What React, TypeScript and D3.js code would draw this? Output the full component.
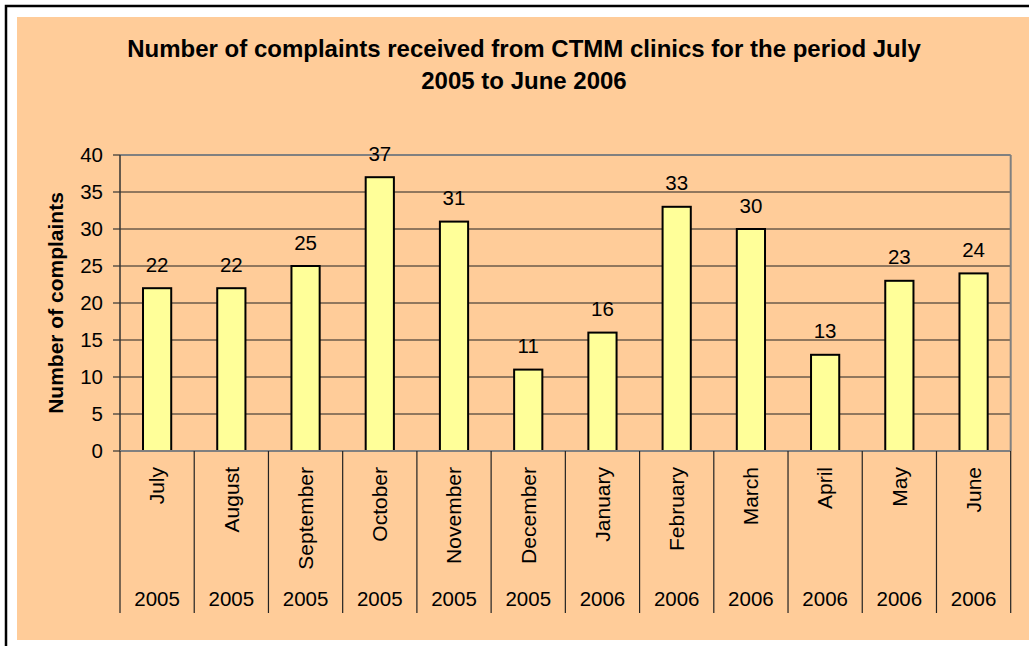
import React from 'react';
import * as d3 from 'd3';

const months = ['July', 'August', 'September', 'October', 'November', 'December', 'January', 'February', 'March', 'April', 'May', 'June'];
const years = ['2005', '2005', '2005', '2005', '2005', '2005', '2006', '2006', '2006', '2006', '2006', '2006'];
const complaints = [22, 22, 25, 37, 31, 11, 16, 33, 30, 13, 23, 24];
const yTicks = [0, 5, 10, 15, 20, 25, 30, 35, 40];

const W = 1029;
const H = 646;
const font = 'Arial, "Liberation Sans", sans-serif';

export default function App() {
  const left = 120;
  const right = 1010.7;
  const top = 155;
  const bottom = 451;

  const x = d3.scaleBand<number>()
    .domain(d3.range(months.length))
    .range([left, right])
    .padding(0);

  const y = d3.scaleLinear()
    .domain([0, 40])
    .range([bottom, top]);

  const barW = x.bandwidth() * 0.38;

  return (
    <div style={{ position: 'absolute', left: 0, top: 0 }}>
      <svg width={W} height={H} style={{ display: 'block' }} fontFamily={font}>
        <rect x={0} y={0} width={W} height={H} fill="#ffffff" />
        {/* outer frame */}
        <rect x={6} y={6} width={W + 50} height={H + 50} fill="none" stroke="#000" strokeWidth={2.5} />
        <rect x={17} y={17} width={W} height={640 - 17} fill="#FFCC99" />

        {/* title */}
        <text x={524} y={57} textAnchor="middle" fontSize={24} fontWeight="bold" fill="#000">
          Number of complaints received from CTMM clinics for the period July
        </text>
        <text x={524} y={89} textAnchor="middle" fontSize={24} fontWeight="bold" fill="#000">
          2005 to June 2006
        </text>

        {/* gridlines */}
        {yTicks.filter(t => t > 0 && t < 40).map(t => (
          <line key={t} x1={left} x2={right} y1={y(t)} y2={y(t)} stroke="#222" strokeWidth={1} />
        ))}
        {/* plot border top/right */}
        <line x1={left} x2={right} y1={y(40)} y2={y(40)} stroke="#808080" strokeWidth={2} />
        <line x1={right} x2={right} y1={y(40)} y2={y(0)} stroke="#808080" strokeWidth={2} />

        {/* bars */}
        {complaints.map((v, i) => {
          const cx = (x(i) as number) + x.bandwidth() / 2;
          return (
            <g key={i}>
              <rect x={cx - barW / 2} y={y(v)} width={barW} height={y(0) - y(v)}
                fill="#FFFF99" stroke="#000" strokeWidth={2} />
              <text x={cx} y={y(v) - 16.5} textAnchor="middle" fontSize={20.5} fill="#000">{v}</text>
            </g>
          );
        })}

        {/* y axis */}
        <line x1={left} x2={left} y1={y(40)} y2={y(0)} stroke="#333" strokeWidth={1.5} />
        {yTicks.map(t => (
          <g key={t}>
            <line x1={left - 7} x2={left} y1={y(t)} y2={y(t)} stroke="#333" strokeWidth={1.2} />
            <text x={103} y={y(t)} dy="0.36em" textAnchor="end" fontSize={20.5} fill="#000">{t}</text>
          </g>
        ))}
        <text transform={`translate(63,303) rotate(-90)`} textAnchor="middle" fontSize={21} fontWeight="bold" fill="#000">
          Number of complaints
        </text>

        {/* x axis */}
        <line x1={left} x2={right} y1={y(0)} y2={y(0)} stroke="#808080" strokeWidth={2} />
        {d3.range(months.length + 1).map(i => {
          const xx = i < months.length ? (x(i) as number) : right;
          return <line key={i} x1={xx} x2={xx} y1={y(0)} y2={613} stroke="#222" strokeWidth={1.2} />;
        })}
        {months.map((m, i) => {
          const cx = (x(i) as number) + x.bandwidth() / 2;
          return (
            <g key={m}>
              <text transform={`translate(${cx},467) rotate(-90)`} dy="0.35em" textAnchor="end" fontSize={21} fill="#000">{m}</text>
              <text x={cx} y={606} textAnchor="middle" fontSize={20.5} fill="#000">{years[i]}</text>
            </g>
          );
        })}
      </svg>
    </div>
  );
}
